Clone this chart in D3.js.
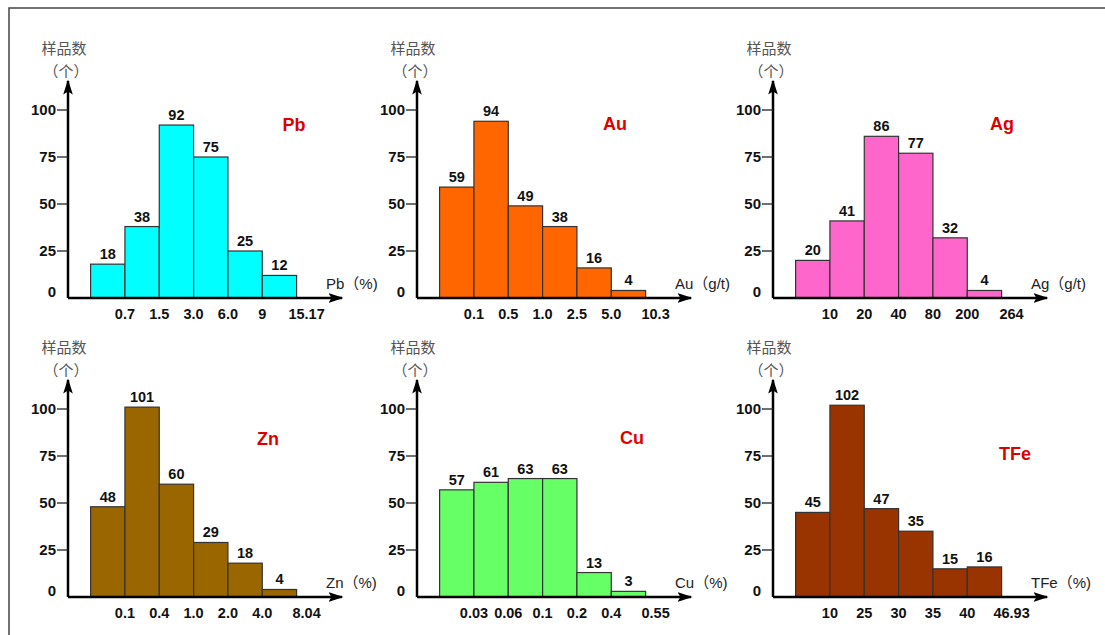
<!DOCTYPE html>
<html lang="zh">

<head>
    <meta charset="UTF-8">
    <title>样品数直方图</title>
    <script src="https://cdn.jsdelivr.net/npm/d3@7"></script>
    <style>
        body {
            margin: 0;
            background: #fff;
        }

        svg text {
            font-family: "Liberation Sans", Arial, "Noto Sans CJK SC", sans-serif;
        }

        .tick-y {
            font-weight: bold;
            font-size: 15px;
            fill: #111;
        }

        .tick-x {
            font-weight: bold;
            font-size: 14.5px;
            fill: #111;
        }

        .val {
            font-weight: bold;
            font-size: 14.5px;
            fill: #111;
        }

        .name {
            font-weight: bold;
            font-size: 18px;
            fill: #dd0000;
        }

        .unit {
            font-size: 15px;
            fill: #222;
        }

        .ylab {
            font-family: "Noto Sans CJK SC", sans-serif;
            font-size: 15px;
            fill: #555;
        }
    </style>
</head>

<body>
    <script>
        // values
        const elements = ["Pb", "Au", "Ag", "Zn", "Cu", "TFe"];
        const units = ["%", "g/t", "g/t", "%", "%", "%"];
        const pbCounts = [18, 38, 92, 75, 25, 12];
        const auCounts = [59, 94, 49, 38, 16, 4];
        const agCounts = [20, 41, 86, 77, 32, 4];
        const znCounts = [48, 101, 60, 29, 18, 4];
        const cuCounts = [57, 61, 63, 63, 13, 3];
        const tfeCounts = [45, 102, 47, 35, 15, 16];
        const pbBreaks = ["0.7", "1.5", "3.0", "6.0", "9", "15.17"];
        const auBreaks = ["0.1", "0.5", "1.0", "2.5", "5.0", "10.3"];
        const agBreaks = ["10", "20", "40", "80", "200", "264"];
        const znBreaks = ["0.1", "0.4", "1.0", "2.0", "4.0", "8.04"];
        const cuBreaks = ["0.03", "0.06", "0.1", "0.2", "0.4", "0.55"];
        const tfeBreaks = ["10", "25", "30", "35", "40", "46.93"];
        const yTicks = [25, 50, 75, 100];

        const colors = ["#00ffff", "#ff6600", "#ff66cc", "#996600", "#66ff66", "#993300"];
        const counts = [pbCounts, auCounts, agCounts, znCounts, cuCounts, tfeCounts];
        const breaks = [pbBreaks, auBreaks, agBreaks, znBreaks, cuBreaks, tfeBreaks];

        // panel placement: axis origin and where the element name sits
        const layout = [
            { ox: 68, oy: 298, tx: 226, ty: -174 },
            { ox: 417, oy: 298, tx: 198, ty: -175 },
            { ox: 773, oy: 298, tx: 229, ty: -175 },
            { ox: 68, oy: 597, tx: 200, ty: -159 },
            { ox: 417, oy: 597, tx: 215, ty: -160 },
            { ox: 773, oy: 597, tx: 242, ty: -144 },
        ];

        const width = 1105;
        const height = 635;

        const svg = d3.select("body").append("svg")
            .attr("width", width).attr("height", height);

        svg.append("defs").append("marker")
            .attr("id", "arrow")
            .attr("viewBox", "0 0 10 10")
            .attr("refX", 9).attr("refY", 5)
            .attr("markerWidth", 6).attr("markerHeight", 6)
            .attr("markerUnits", "strokeWidth")
            .attr("orient", "auto")
            .append("path").attr("d", "M0,1.8 L10,5 L0,8.2 L2,5 Z").attr("fill", "#000");

        // frame
        svg.append("rect")
            .attr("x", 9).attr("y", 8)
            .attr("width", 1300).attr("height", 800)
            .attr("fill", "none").attr("stroke", "#444").attr("stroke-width", 1.5);

        elements.forEach((el, i) => {
            const { ox, oy, tx, ty } = layout[i];
            const data = counts[i];
            const g = svg.append("g");

            const y = d3.scaleLinear().domain([0, 100]).range([oy, oy - 188]);
            const x = d3.scaleBand()
                .domain(d3.range(data.length))
                .range([ox + 22.6, ox + 22.6 + 206])
                .padding(0);

            // bars
            g.selectAll("rect.bar")
                .data(data)
                .join("rect")
                .attr("class", "bar")
                .attr("x", (d, j) => x(j))
                .attr("y", d => y(d))
                .attr("width", x.bandwidth())
                .attr("height", d => y(0) - y(d))
                .attr("fill", colors[i])
                .attr("stroke", "#333")
                .attr("stroke-width", 1.2);

            g.selectAll("text.val")
                .data(data)
                .join("text")
                .attr("class", "val")
                .attr("x", (d, j) => x(j) + x.bandwidth() / 2)
                .attr("y", d => y(d) - 5)
                .attr("text-anchor", "middle")
                .text(d => d);

            // axes
            g.append("line")
                .attr("x1", ox).attr("y1", oy)
                .attr("x2", ox).attr("y2", oy - 217)
                .attr("stroke", "#000").attr("stroke-width", 2.5)
                .attr("marker-end", "url(#arrow)");
            g.append("line")
                .attr("x1", ox).attr("y1", oy)
                .attr("x2", ox + 274).attr("y2", oy)
                .attr("stroke", "#000").attr("stroke-width", 2.5)
                .attr("marker-end", "url(#arrow)");

            g.selectAll("line.ty")
                .data(yTicks)
                .join("line")
                .attr("class", "ty")
                .attr("x1", ox - 11).attr("x2", ox)
                .attr("y1", d => y(d)).attr("y2", d => y(d))
                .attr("stroke", "#222").attr("stroke-width", 1.3);

            g.selectAll("text.tick-y")
                .data([0, ...yTicks])
                .join("text")
                .attr("class", "tick-y")
                .attr("x", ox - 12)
                .attr("y", d => d === 0 ? y(d) - 1 : y(d) + 5)
                .attr("text-anchor", "end")
                .text(d => d);

            g.selectAll("text.tick-x")
                .data(breaks[i])
                .join("text")
                .attr("class", "tick-x")
                .attr("x", (d, j) => x(j) + x.bandwidth() + (j === data.length - 1 ? 10 : 0))
                .attr("y", oy + 21)
                .attr("text-anchor", "middle")
                .text(d => d);

            // labels
            g.append("text")
                .attr("class", "ylab")
                .attr("x", ox - 4).attr("y", oy - 244)
                .attr("text-anchor", "middle")
                .text("样品数");
            g.append("text")
                .attr("class", "ylab")
                .attr("x", ox - 2).attr("y", oy - 221)
                .attr("text-anchor", "middle")
                .text("（个）");

            g.append("text")
                .attr("class", "unit")
                .attr("x", ox + 258).attr("y", oy - 9)
                .text(`${el}（${units[i]})`);

            g.append("text")
                .attr("class", "name")
                .attr("x", ox + tx).attr("y", oy + ty + 7)
                .attr("text-anchor", "middle")
                .text(el);
        });
    </script>
</body>

</html>
